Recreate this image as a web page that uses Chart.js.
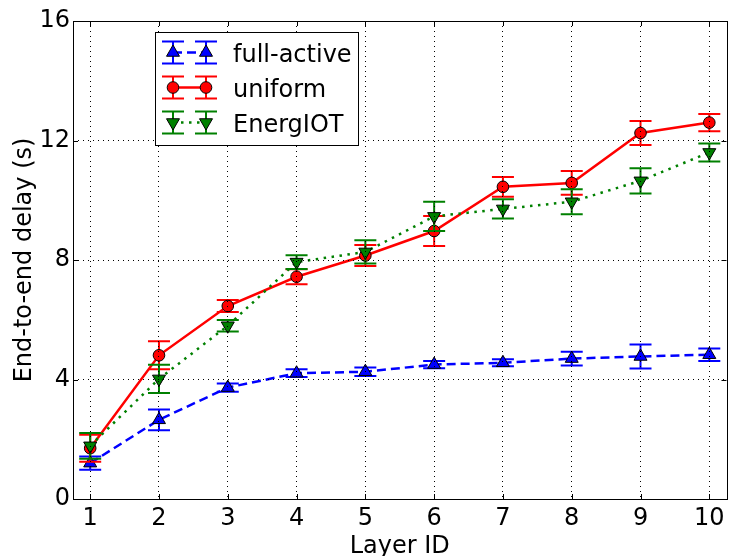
<!DOCTYPE html>
<html>
<head>
<meta charset="utf-8">
<script src="https://cdn.jsdelivr.net/npm/chart.js@4"></script>
<style>
  html, body { margin: 0; padding: 0; background: #fff; }
  #wrap { width: 735px; height: 556px; }
</style>
</head>
<body>
<div id="wrap"><canvas id="chart"></canvas></div>
<script>
// Data
const layers = [1, 2, 3, 4, 5, 6, 7, 8, 9, 10];
const yTicks = [0, 4, 8, 12, 16];

const fullActive    = [1.2, 2.65, 3.73, 4.21, 4.26, 4.5, 4.56, 4.7, 4.77, 4.83];
const fullActiveErr = [0.22, 0.35, 0.14, 0.13, 0.14, 0.12, 0.12, 0.23, 0.4, 0.21];
const uniform       = [1.7, 4.81, 6.46, 7.44, 8.15, 8.97, 10.45, 10.58, 12.25, 12.6];
const uniformErr    = [0.45, 0.47, 0.2, 0.25, 0.35, 0.5, 0.33, 0.4, 0.4, 0.29];
const energIOT      = [1.78, 4.02, 5.8, 7.93, 8.27, 9.46, 9.71, 9.95, 10.65, 11.6];
const energIOTErr   = [0.43, 0.47, 0.19, 0.23, 0.39, 0.49, 0.32, 0.42, 0.42, 0.3];

const FONT = 'DejaVu Sans';
const toPoints = vals => layers.map((l, i) => ({ x: l, y: vals[i] }));

// Error bars, drawn under each dataset's line and markers
const errBars = {
  id: 'errBars',
  beforeDatasetDraw(chart, args) {
    const ds = chart.data.datasets[args.index];
    const xs = chart.scales.x, ys = chart.scales.y;
    const ctx = chart.ctx;
    ctx.save();
    ctx.strokeStyle = ds.borderColor;
    ctx.lineWidth = 2;
    ds.data.forEach((p, i) => {
      const px = xs.getPixelForValue(p.x);
      const top = ys.getPixelForValue(p.y + ds.errors[i]);
      const bot = ys.getPixelForValue(p.y - ds.errors[i]);
      ctx.beginPath();
      ctx.moveTo(px, top); ctx.lineTo(px, bot);
      ctx.moveTo(px - 11, top); ctx.lineTo(px + 11, top);
      ctx.moveTo(px - 11, bot); ctx.lineTo(px + 11, bot);
      ctx.stroke();
    });
    ctx.restore();
  }
};

// Full frame with inward tick marks, then the legend box
const frameAndLegend = {
  id: 'frameAndLegend',
  afterDraw(chart) {
    const ctx = chart.ctx;
    const a = chart.chartArea;
    const xs = chart.scales.x, ys = chart.scales.y;
    ctx.save();
    ctx.strokeStyle = '#000';
    ctx.lineWidth = 1;
    ctx.beginPath();
    layers.forEach(v => {
      const px = Math.round(xs.getPixelForValue(v)) + 0.5;
      ctx.moveTo(px, a.bottom); ctx.lineTo(px, a.bottom - 5);
      ctx.moveTo(px, a.top); ctx.lineTo(px, a.top + 5);
    });
    yTicks.forEach(v => {
      const py = Math.round(ys.getPixelForValue(v)) + 0.5;
      ctx.moveTo(a.left, py); ctx.lineTo(a.left + 5, py);
      ctx.moveTo(a.right, py); ctx.lineTo(a.right - 5, py);
    });
    ctx.stroke();
    ctx.strokeRect(Math.round(a.left) + 0.5, Math.round(a.top) + 0.5,
                   Math.round(a.right - a.left), Math.round(a.bottom - a.top));

    // legend
    const bx = 155.5, by = 32.5, bw = 203, bh = 113;
    ctx.fillStyle = '#fff';
    ctx.fillRect(bx, by, bw, bh);
    ctx.strokeStyle = '#000';
    ctx.strokeRect(bx, by, bw, bh);
    const m1 = 173, m2 = 206;
    chart.data.datasets.forEach((ds, i) => {
      const cy = 52.5 + i * 35;
      ctx.save();
      ctx.strokeStyle = ds.borderColor;
      ctx.lineWidth = ds.borderWidth;
      ctx.setLineDash(ds.borderDash || []);
      ctx.beginPath();
      ctx.moveTo(m1, cy); ctx.lineTo(m2, cy);
      ctx.stroke();
      ctx.setLineDash([]);
      ctx.lineWidth = 2;
      [m1, m2].forEach(mx => {
        ctx.beginPath();
        ctx.moveTo(mx, cy - 11); ctx.lineTo(mx, cy + 11);
        ctx.moveTo(mx - 11, cy - 11); ctx.lineTo(mx + 11, cy - 11);
        ctx.moveTo(mx - 11, cy + 11); ctx.lineTo(mx + 11, cy + 11);
        ctx.stroke();
      });
      ctx.fillStyle = ds.pointBackgroundColor;
      ctx.strokeStyle = ds.pointBorderColor;
      ctx.lineWidth = ds.pointBorderWidth;
      [m1, m2].forEach(mx => {
        Chart.helpers.drawPoint(ctx, {
          pointStyle: ds.pointStyle,
          rotation: ds.pointRotation || 0,
          radius: ds.pointRadius,
          borderWidth: ds.pointBorderWidth
        }, mx, cy);
      });
      ctx.restore();
      ctx.fillStyle = '#000';
      ctx.font = '24px "' + FONT + '"';
      ctx.textBaseline = 'alphabetic';
      ctx.fillText(ds.label, 233, cy + 9);
    });
    ctx.restore();
  }
};

new Chart(document.getElementById('chart'), {
  type: 'line',
  data: {
    datasets: [
      {
        label: 'full-active',
        data: toPoints(fullActive),
        errors: fullActiveErr,
        borderColor: '#0000ff',
        backgroundColor: '#0000ff',
        borderWidth: 2.5,
        borderDash: [9, 5],
        pointStyle: 'triangle',
        pointRadius: 7.5,
        pointBackgroundColor: '#0000ff',
        pointBorderColor: '#000',
        pointBorderWidth: 1,
        order: 2
      },
      {
        label: 'uniform',
        data: toPoints(uniform),
        errors: uniformErr,
        borderColor: '#ff0000',
        backgroundColor: '#ff0000',
        borderWidth: 2.5,
        pointStyle: 'circle',
        pointRadius: 5.8,
        pointBackgroundColor: '#ff0000',
        pointBorderColor: '#000',
        pointBorderWidth: 1,
        order: 1
      },
      {
        label: 'EnergIOT',
        data: toPoints(energIOT),
        errors: energIOTErr,
        borderColor: '#008000',
        backgroundColor: '#008000',
        borderWidth: 2.5,
        borderDash: [2.5, 5.5],
        pointStyle: 'triangle',
        pointRotation: 180,
        pointRadius: 7.5,
        pointBackgroundColor: '#008000',
        pointBorderColor: '#000',
        pointBorderWidth: 1,
        order: 0
      }
    ]
  },
  options: {
    responsive: true,
    maintainAspectRatio: false,
    animation: false,
    events: [],
    clip: false,
    layout: { padding: { top: 21, right: 1, left: 0, bottom: 0 } },
    plugins: { legend: { display: false }, tooltip: { enabled: false } },
    scales: {
      x: {
        type: 'linear',
        min: 0.75,
        max: 10.25,
        afterBuildTicks: s => { s.ticks = layers.map(v => ({ value: v })); },
        afterFit: s => { s.height = 57; },
        grid: { color: '#000', lineWidth: 1, drawTicks: false, z: 1 },
        border: { display: false, dash: [1, 4] },
        ticks: { color: '#000', padding: 5, font: { family: FONT, size: 24 } },
        title: {
          display: true, text: 'Layer ID', color: '#000',
          font: { family: FONT, size: 24, lineHeight: 0.8 },
          padding: { top: 0, bottom: 0 }
        }
      },
      y: {
        min: 0,
        max: 16,
        afterBuildTicks: s => { s.ticks = yTicks.map(v => ({ value: v })); },
        afterFit: s => { s.width = 73; },
        grid: { color: '#000', lineWidth: 1, drawTicks: false, z: 1 },
        border: { display: false, dash: [1, 4] },
        ticks: { color: '#000', padding: 3, font: { family: FONT, size: 24 } },
        title: {
          display: true, text: 'End-to-end delay (s)', color: '#000',
          font: { family: FONT, size: 24 },
          padding: { top: 10, bottom: 0 }
        }
      }
    }
  },
  plugins: [errBars, frameAndLegend]
});
</script>
</body>
</html>
